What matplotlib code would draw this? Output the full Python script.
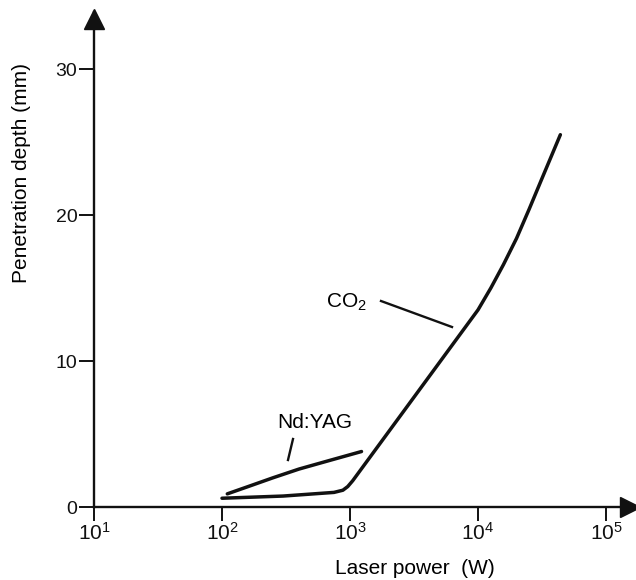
import matplotlib
matplotlib.use("Agg")
import matplotlib.pyplot as plt
import numpy as np

plt.rcParams['font.family'] = ['Liberation Sans', 'DejaVu Sans']
plt.rcParams['mathtext.fontset'] = 'custom'
plt.rcParams['mathtext.rm'] = 'Liberation Sans'
plt.rcParams['mathtext.it'] = 'Liberation Sans'

# Data
co2_power = [100, 300, 750, 880, 960, 1050, 10000, 12600, 15800, 20000, 25100, 31600, 44000]
co2_depth = [0.6, 0.75, 1.0, 1.15, 1.4, 1.8, 13.5, 15.0, 16.6, 18.4, 20.4, 22.5, 25.5]
ndyag_power = [110, 160, 250, 400, 700, 1230]
ndyag_depth = [0.9, 1.4, 2.0, 2.6, 3.2, 3.8]

x_ticks = [1e1, 1e2, 1e3, 1e4, 1e5]
x_ticklabels = [r'$10^{1}$', r'$10^{2}$', r'$10^{3}$', r'$10^{4}$', r'$10^{5}$']
y_ticks = [0, 10, 20, 30]
y_ticklabels = ['0', '10', '20', '30']

W, H = 636, 580
fig = plt.figure(figsize=(W/100, H/100), dpi=100)
ax = fig.add_axes([94/W, 73/H, (630-94)/W, (507-12)/H])
ax.set_xscale('log')
ax.set_xlim(10, 10**(1 + 536/128))
ax.set_ylim(0, 495/14.6)

for s in ['top', 'right']:
    ax.spines[s].set_visible(False)
for s in ['left', 'bottom']:
    ax.spines[s].set_linewidth(1.7)
    ax.spines[s].set_color('#111111')

ax.plot(co2_power, co2_depth, color='#111111', lw=2.5, solid_capstyle='round', solid_joinstyle='round')
ax.plot(ndyag_power, ndyag_depth, color='#111111', lw=2.5, solid_capstyle='round', solid_joinstyle='round')

ax.set_xticks(x_ticks)
ax.set_xticklabels(x_ticklabels)
ax.xaxis.set_minor_locator(matplotlib.ticker.NullLocator())
ax.set_yticks(y_ticks)
ax.set_yticklabels(y_ticklabels)
ax.tick_params(axis='x', direction='out', length=10, width=1.4, labelsize=15, pad=1, colors='#111111')
ax.tick_params(axis='y', direction='out', length=11, width=1.4, labelsize=14, pad=1, colors='#111111')

# arrow heads
ax.plot([0], [0.985], marker='^', color='#111111', ms=14, transform=ax.transAxes, clip_on=False)
ax.plot([1], [0], marker='>', color='#111111', ms=14, transform=ax.transAxes, clip_on=False)

# annotations
ax.text(10**(1 + (346-94)/128), (507-302)/14.6, r'CO$_2$', fontsize=15, ha='center', va='center')
ax.plot([10**(1 + (381-94)/128), 10**(1 + (452-94)/128)], [(511-305)/14.6, (512-332)/14.6],
        color='#111111', lw=1.7)
ax.text(10**(1 + (315-94)/128), (510-425)/14.6, 'Nd:YAG', fontsize=15, ha='center', va='center')
ax.plot([10**(1 + (293-94)/128), 10**(1 + (288-94)/128)], [(510-442)/14.6, (510-463)/14.6],
        color='#111111', lw=1.7)

fig.text(22/W, 1 - 173/H, 'Penetration depth (mm)', rotation=90, ha='center', va='center', fontsize=15)
fig.text(415/W, 1 - 568/H, 'Laser power  (W)', ha='center', va='center', fontsize=15)

fig.savefig('out.png', dpi=100, facecolor='white')
